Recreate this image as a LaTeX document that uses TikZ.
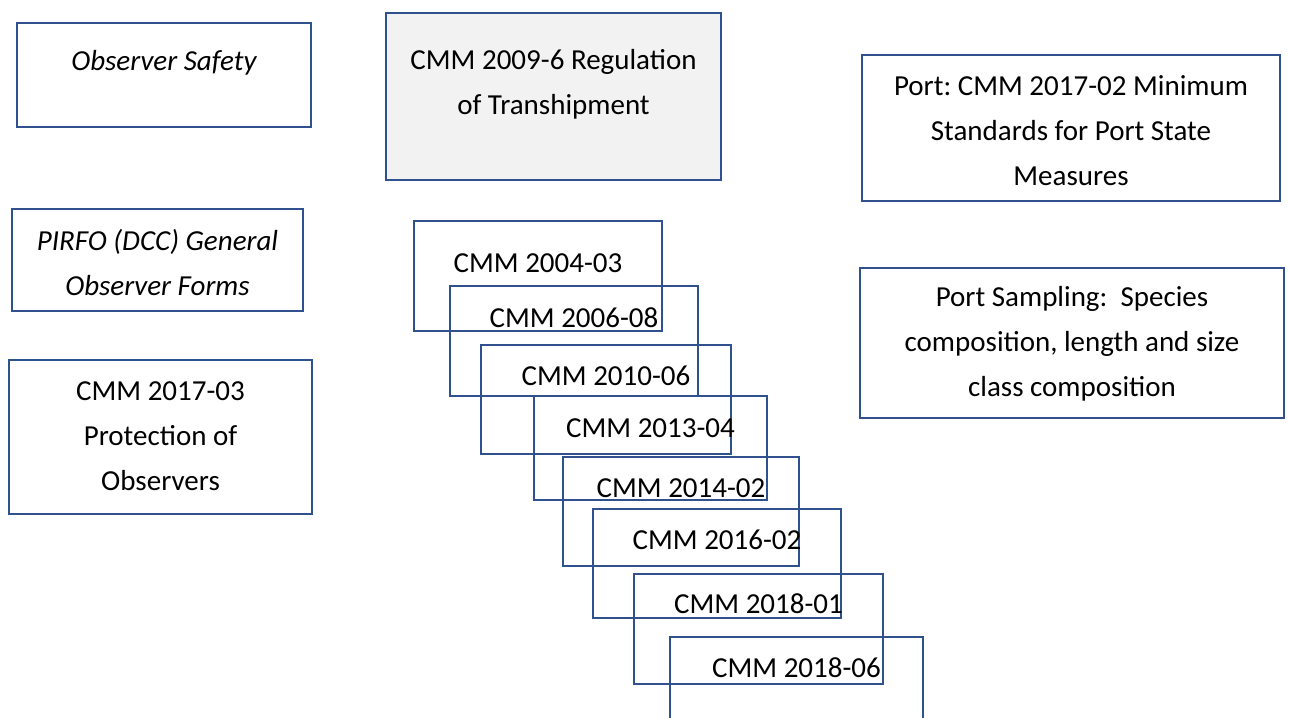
\documentclass[tikz,border=0pt]{standalone}
\usepackage{fontspec}
\setmainfont{Carlito}
\frenchspacing
\definecolor{boxblue}{RGB}{47,82,143}
\definecolor{boxgray}{RGB}{242,242,242}
\tikzset{
  box/.style={draw=boxblue, line width=2.8pt, rectangle, inner sep=0pt},
  boxtext/.style={align=center, inner sep=0pt, font=\fontsize{29}{45}\selectfont}
}

\begin{document}
\begin{tikzpicture}[x=1pt, y=-1pt]
    % Page area
    \clip (0,0) rectangle (1289,717);

    % Left column: observer boxes
    \node[box, minimum width=294, minimum height=104] (safety) at (164,75) {};
    \node[boxtext, font=\fontsize{29}{45}\selectfont\itshape] (safety-t) at (164,63) {Observer Safety};

    \node[box, minimum width=291, minimum height=102] (pirfo) at (157.5,260) {};
    \node[boxtext, font=\fontsize{29}{45}\selectfont\itshape] (pirfo-t) at (157.5,263) {PIRFO (DCC) General\\Observer Forms};

    \node[box, minimum width=303, minimum height=154] (protect) at (160.5,437) {};
    \node[boxtext] (protect-t) at (160.5,436) {CMM 2017-03\\Protection of\\Observers};

    % Transhipment box, shaded
    \node[box, fill=boxgray, minimum width=335, minimum height=167] (tranship) at (553.5,96.5) {};
    \node[boxtext] (tranship-t) at (553.5,84) {CMM 2009-6 Regulation\\of Transhipment};

    % Right column: port boxes
    \node[box, minimum width=418, minimum height=146] (portstate) at (1071,128) {};
    \node[boxtext] (portstate-t) at (1071,131) {Port: CMM 2017-02 Minimum\\Standards for Port State\\Measures};

    \node[box, minimum width=424, minimum height=150] (sampling) at (1072,343) {};
    \node[boxtext] (sampling-t) at (1072,344) {Port Sampling:~ Species\\composition, length and size\\class composition};

    % Stack of CMM boxes, each shifted down and right
    \foreach \cx/\cy/\w/\h/\ty/\i/\txt in {
        538/276/248/110/263/1/CMM 2004-03,
        574/341/248/110/318/2/CMM 2006-08,
        606/399.5/250/109/376/3/CMM 2010-06,
        650.5/448/233/104/428/4/CMM 2013-04,
        681/511.5/236/109/488/5/CMM 2014-02,
        717/563.5/248/109/540/6/CMM 2016-02,
        758.5/629/249/110/604/7/CMM 2018-01,
        796.5/692/253/110/668/8/CMM 2018-06} {
        \node[box, minimum width=\w, minimum height=\h] (stack-\i) at (\cx,\cy) {};
        \node[boxtext] (stack-\i-t) at (\cx,\ty) {\txt};
    }
\end{tikzpicture}
\end{document}
